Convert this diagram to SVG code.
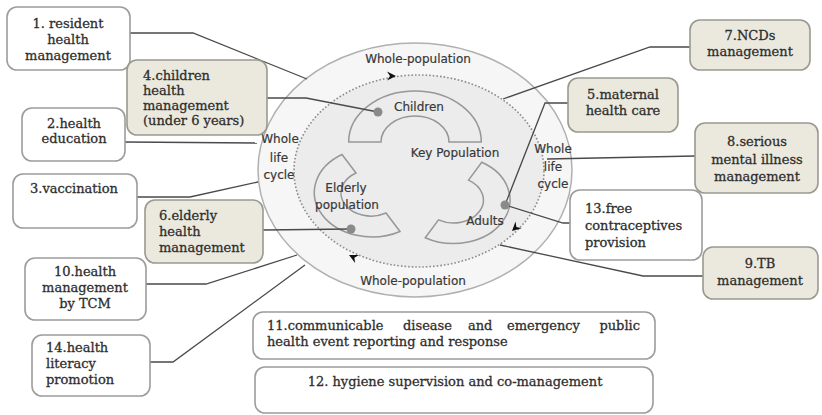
<svg xmlns="http://www.w3.org/2000/svg" width="822" height="415" viewBox="0 0 822 415">
<defs>
<style>
.bw{fill:#ffffff;stroke:#9c9c9c;stroke-width:1.6}
.bb{fill:#ebe9de;stroke:#9a9990;stroke-width:1.6}
.t{font-family:"DejaVu Serif","Liberation Serif",serif;font-size:13px;fill:#2e2e2e;stroke:#2e2e2e;stroke-width:0.3}
.c{text-anchor:middle}
.s{font-family:"DejaVu Sans","Liberation Sans",sans-serif;font-size:12px;fill:#383838;stroke:#383838;stroke-width:0.2;text-anchor:middle}
.ln{fill:none;stroke:#4a4a4a;stroke-width:1.3}
.arc{fill:#ececec;stroke:#979797;stroke-width:1.5}
.dot{fill:#8a8a8a}
.ah{fill:#111111}
</style>
</defs>
<rect width="822" height="415" fill="#ffffff"/>
<g id="circle">
<ellipse cx="415" cy="170" rx="157" ry="127" fill="#f6f6f6" stroke="#b0b0b0" stroke-width="1.5"/>
<ellipse cx="419" cy="171" rx="125" ry="96" fill="#ececec" stroke="#8c8c8c" stroke-width="1.6" stroke-dasharray="1.6 2"/>
<path class="arc" d="M348.7,142 A66.3,51 0 0 1 481.3,142 L449,142 A34,26 0 0 0 381,142 Z"/>
<path class="arc" d="M342,154.5 A57.9,44.5 0 0 0 400,231.5 L386,213 A29.9,23 0 0 1 356,173 Z"/>
<path class="arc" d="M481.75,162.3 A56.5,43.5 0 0 1 425.25,237.7 L438.5,219.9 A29.9,23 0 0 0 468.5,180.1 Z"/>
<polygon class="ah" points="0,0 -9,-4.5 -6,0 -9,4.5" transform="translate(396,76)"/>
<polygon class="ah" points="0,0 -9,-4.5 -6,0 -9,4.5" transform="translate(349,255) rotate(206)"/>
<polygon class="ah" points="0,0 -9,-4.5 -6,0 -9,4.5" transform="translate(512,231) rotate(137)"/>
<text class="s" x="418" y="63">Whole-population</text>
<text class="s" x="413" y="285">Whole-population</text>
<text class="s" x="419" y="111">Children</text>
<text class="s" x="455" y="157">Key Population</text>
<text class="s" x="346" y="192">Elderly</text>
<text class="s" x="347" y="209">population</text>
<text class="s" x="485" y="225">Adults</text>
<text class="s" x="280" y="143">Whole</text>
<text class="s" x="279" y="162">life</text>
<text class="s" x="279" y="179">cycle</text>
<text class="s" x="553" y="153">Whole</text>
<text class="s" x="553" y="171">life</text>
<text class="s" x="553" y="188">cycle</text>
</g>
<g id="connectors">
<polyline class="ln" points="130,33 193,33 307,79"/>
<polyline class="ln" points="267,98 306,98 378,112"/>
<polyline class="ln" points="125,142 257,143"/>
<polyline class="ln" points="137,197 190,197 258,182"/>
<polyline class="ln" points="263,230 351,229"/>
<polyline class="ln" points="146,284 206,284 297,255"/>
<polyline class="ln" points="150,362 173,362 305,265"/>
<polyline class="ln" points="690,47 650,47 503,99"/>
<polyline class="ln" points="568,103 545,103 505,205"/>
<polyline class="ln" points="695,156 547,159"/>
<polyline class="ln" points="570,223 563,223 505,205"/>
<polyline class="ln" points="703,276 643,276 500,245"/>
</g>
<g id="dots">
<circle class="dot" cx="378" cy="112" r="4.5"/>
<circle class="dot" cx="351" cy="229" r="4.5"/>
<circle class="dot" cx="505" cy="205" r="4.5"/>
</g>
<g id="n1"><rect class="bw" x="7" y="7" width="123" height="63" rx="10"/>
<text class="t c" x="68" y="28">1. resident</text><text class="t c" x="68" y="44">health</text><text class="t c" x="68" y="60">management</text></g>
<g id="n4"><rect class="bb" x="127" y="60" width="140" height="75" rx="10"/>
<text class="t" x="143" y="80">4.children</text><text class="t" x="143" y="95">health</text><text class="t" x="143" y="110">management</text><text class="t" x="143" y="125">(under 6 years)</text></g>
<g id="n2"><rect class="bw" x="22" y="108" width="103" height="53" rx="10"/>
<text class="t c" x="74" y="128">2.health</text><text class="t c" x="74" y="143">education</text></g>
<g id="n3"><rect class="bw" x="13" y="174" width="124" height="54" rx="10"/>
<text class="t c" x="74" y="193">3.vaccination</text></g>
<g id="n6"><rect class="bb" x="145" y="200" width="118" height="63" rx="10"/>
<text class="t" x="159" y="220">6.elderly</text><text class="t" x="159" y="236">health</text><text class="t" x="159" y="252">management</text></g>
<g id="n10"><rect class="bw" x="25" y="258" width="121" height="62" rx="10"/>
<text class="t c" x="85" y="276">10.health</text><text class="t c" x="85" y="292">management</text><text class="t c" x="85" y="308">by TCM</text></g>
<g id="n14"><rect class="bw" x="32" y="335" width="118" height="61" rx="10"/>
<text class="t" x="46" y="352">14.health</text><text class="t" x="46" y="368">literacy</text><text class="t" x="46" y="384">promotion</text></g>
<g id="n11"><rect class="bw" x="253" y="312" width="402" height="47" rx="10"/>
<text class="t" y="330"><tspan x="267">11.communicable</tspan><tspan x="403">disease</tspan><tspan x="468">and</tspan><tspan x="507">emergency</tspan><tspan x="640" text-anchor="end">public</tspan></text>
<text class="t" x="267" y="346">health event reporting and response</text></g>
<g id="n12"><rect class="bw" x="255" y="367" width="398" height="46" rx="10"/>
<text class="t c" x="455" y="386">12. hygiene supervision and co-management</text></g>
<g id="n7"><rect class="bb" x="690" y="20" width="120" height="50" rx="10"/>
<text class="t c" x="750" y="40">7.NCDs</text><text class="t c" x="750" y="56">management</text></g>
<g id="n5"><rect class="bb" x="568" y="78" width="110" height="54" rx="10"/>
<text class="t c" x="623" y="99">5.maternal</text><text class="t c" x="623" y="115">health care</text></g>
<g id="n8"><rect class="bb" x="695" y="123" width="123" height="70" rx="10"/>
<text class="t c" x="757" y="146">8.serious</text><text class="t c" x="757" y="164">mental illness</text><text class="t c" x="757" y="181">management</text></g>
<g id="n13"><rect class="bw" x="570" y="190" width="132" height="70" rx="10"/>
<text class="t" x="585" y="213">13.free</text><text class="t" x="585" y="230">contraceptives</text><text class="t" x="585" y="247">provision</text></g>
<g id="n9"><rect class="bb" x="703" y="247" width="115" height="52" rx="10"/>
<text class="t c" x="760" y="268">9.TB</text><text class="t c" x="760" y="285">management</text></g>
</svg>
